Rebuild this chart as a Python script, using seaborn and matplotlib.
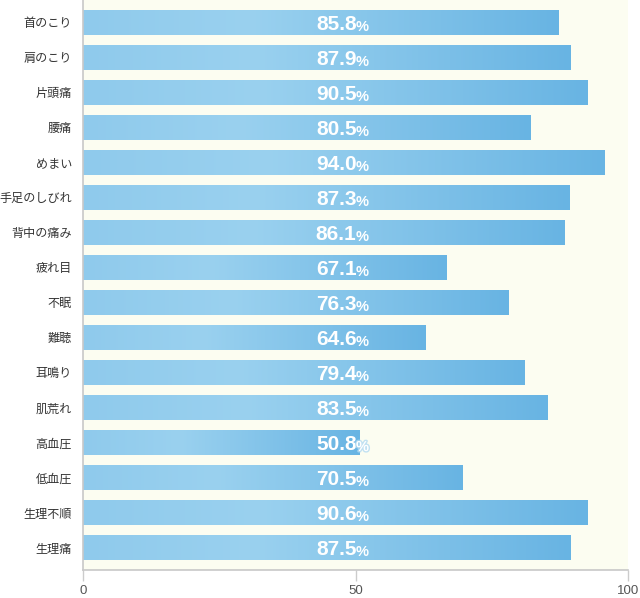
import numpy as np
import pandas as pd
import matplotlib
matplotlib.use("Agg")
import matplotlib.pyplot as plt
import matplotlib.patheffects as pe
from matplotlib.colors import LinearSegmentedColormap
import seaborn as sns

symptoms = ["首のこり", "肩のこり", "片頭痛", "腰痛", "めまい", "手足のしびれ",
            "背中の痛み", "疲れ目", "不眠", "難聴", "耳鳴り", "肌荒れ",
            "高血圧", "低血圧", "生理不順", "生理痛"]
# printed percentages
rates = [85.8, 87.9, 90.5, 80.5, 94.0, 87.3, 86.1, 67.1, 76.3, 64.6,
         79.4, 83.5, 50.8, 70.5, 90.6, 87.5]
# bar lengths as drawn in the original
bar_len = [87.3, 89.4, 92.5, 82.1, 95.6, 89.2, 88.3, 66.7, 78.0, 62.9,
           81.1, 85.3, 50.8, 69.7, 92.5, 89.4]
x_ticks = [0, 50, 100]

df = pd.DataFrame({"symptom": symptoms, "length": bar_len, "rate": rates})

sns.set_style("white")
plt.rcParams["font.family"] = ["Noto Sans CJK JP", "DejaVu Sans"]

fig = plt.figure(figsize=(6.4, 5.98), dpi=100)
ax = fig.add_axes([83 / 640, 1 - 570 / 598, 545 / 640, 570 / 598])
ax.set_facecolor("#fcfdf1")

sns.barplot(data=df, x="length", y="symptom", orient="h", width=0.71,
            color="#8ecbec", saturation=1, ax=ax)

# per-bar horizontal gradient
grad = LinearSegmentedColormap.from_list(
    "bar", [(0.0, "#8fcaec"), (0.35, "#9ad1ef"), (1.0, "#68b4e3")])
gx = np.linspace(0, 1, 256).reshape(1, -1)
for p in ax.patches:
    x0, y0 = p.get_x(), p.get_y()
    w, h = p.get_width(), p.get_height()
    im = ax.imshow(gx, cmap=grad, aspect="auto", extent=[x0, x0 + w, y0 + h, y0],
                   interpolation="bicubic", zorder=2)
    im.set_clip_path(p)
    p.set_facecolor("none")
    p.set_edgecolor("none")

glow = [pe.withStroke(linewidth=2, foreground="#b3dbf2", alpha=0.8)]
for i, (v, l) in enumerate(zip(rates, bar_len)):
    ax.text(50.2, i, f"{v:.1f}", ha="right", va="center_baseline", color="white",
            fontsize=15, fontweight="bold", family="Liberation Sans", zorder=4)
    ax.text(50.1, i + 0.09, "%", ha="left", va="center_baseline", color="white",
            fontsize=10.5, fontweight="bold", family="Liberation Sans", zorder=4,
            path_effects=glow if l < 53 else None)

ax.set_xlim(0, 100)
ax.set_ylim(len(symptoms) - 0.36, -0.63)
ax.set_xticks(x_ticks)
ax.set_xticklabels([str(t) for t in x_ticks], family="Liberation Sans",
                   fontsize=9.5, color="#555555")
ax.tick_params(axis="x", length=8, width=1, color="#cccccc", pad=3, bottom=True)
ax.tick_params(axis="y", length=0, pad=8, labelsize=8.7, labelcolor="#333333")
ax.set_xlabel("")
ax.set_ylabel("")
for s in ["top", "right"]:
    ax.spines[s].set_visible(False)
for s in ["left", "bottom"]:
    ax.spines[s].set_color("#c8c8c8")
    ax.spines[s].set_linewidth(1.2)

fig.savefig("out.png", dpi=100, facecolor="white")
